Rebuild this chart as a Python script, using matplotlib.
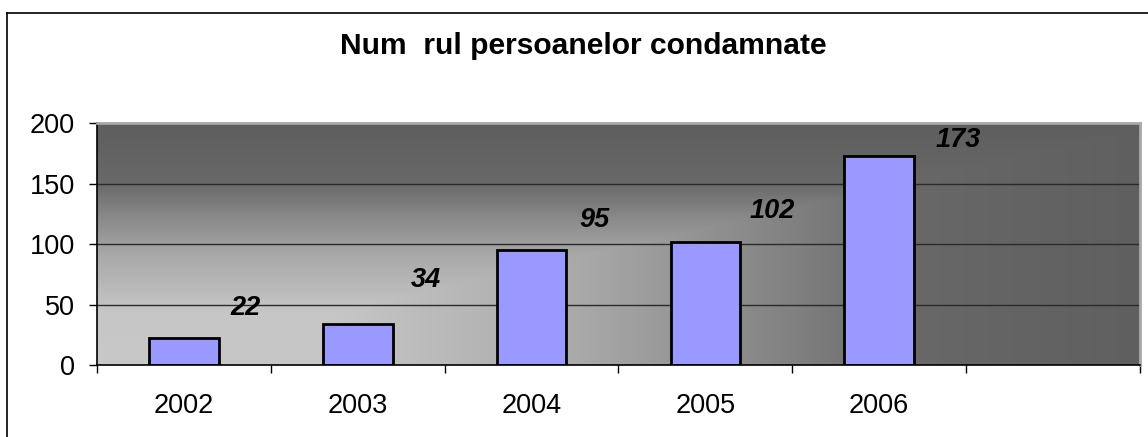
import numpy as np
import matplotlib
matplotlib.use("Agg")
import matplotlib.pyplot as plt
from matplotlib.colors import LinearSegmentedColormap
from matplotlib.lines import Line2D

# ---- data ----
categories = ["2002", "2003", "2004", "2005", "2006", ""]
values = [22, 34, 95, 102, 173]
title = "Num  rul persoanelor condamnate"
yticks = [0, 50, 100, 150, 200]

# label offsets (pixels) relative to bar top centre (styling)
label_offsets = [(62, 30), (68, 44), (63, 30), (67, 31), (79, 16)]

plt.rcParams['font.family'] = ['Liberation Sans', 'DejaVu Sans']

W, H = 1148, 437
fig = plt.figure(figsize=(W / 100, H / 100), dpi=100)
fig.patch.set_facecolor("white")

# outer chart-area border (left & top visible)
fig.add_artist(Line2D([7 / W, 7 / W], [0, 1 - 13 / H], color="black", lw=1.2))
fig.add_artist(Line2D([7 / W, 1.01], [1 - 13 / H, 1 - 13 / H], color="black", lw=1.2))

x0, x1 = 97, 1140
ytop, ybot = 123.5, 365
ax = fig.add_axes([x0 / W, 1 - ybot / H, (x1 - x0) / W, (ybot - ytop) / H])

n = len(categories)
ax.set_xlim(-0.5, n - 0.5)
ax.set_ylim(0, 200)

# gradient background (lightest at bottom-left, darker to top and right)
nx, ny = 400, 200
u = np.linspace(0, 1, nx)[None, :]
v = np.linspace(0, 1, ny)[:, None]
t = np.maximum(u * 0.97, v)
cmap = LinearSegmentedColormap.from_list(
    "bg",
    [(0.0, "#c8c8c8"), (0.22, "#c6c6c6"), (0.45, "#a9a9a9"),
     (0.62, "#878787"), (0.76, "#686868"), (1.0, "#5e5e5e")])
ax.imshow(t, cmap=cmap, vmin=0, vmax=1, origin="lower", aspect="auto",
          extent=(-0.5, n - 0.5, 0, 200), zorder=0, interpolation="bilinear")

# gridlines
for yv in yticks[1:-1]:
    ax.axhline(yv, color="#2a2a2a", lw=1.0, zorder=1)

xs = np.arange(len(values))
ax.bar(xs, values, width=0.4, color="#9999ff", edgecolor="black",
       linewidth=2.0, zorder=2)

for xi, val, (dx, dy) in zip(xs, values, label_offsets):
    ax.annotate(str(val), (xi, val), xytext=(dx, dy), textcoords="offset pixels",
                ha="center", va="center", fontsize=19.5, fontweight="bold",
                fontstyle="italic", color="black", zorder=3)

# spines
ax.spines["left"].set_color("black")
ax.spines["bottom"].set_color("black")
ax.spines["left"].set_linewidth(1.2)
ax.spines["bottom"].set_linewidth(1.2)
ax.spines["top"].set_color("#a8a8a8")
ax.spines["right"].set_color("#a8a8a8")
ax.spines["top"].set_linewidth(2.0)
ax.spines["right"].set_linewidth(2.0)

# y ticks
ax.set_yticks(yticks)
ax.set_yticklabels([str(y) for y in yticks])
ax.tick_params(axis="y", direction="out", length=6, width=1, color="black",
               labelsize=19.5, pad=10)

# x ticks: labels at centres, tick marks at boundaries
ax.set_xticks(np.arange(n))
ax.set_xticklabels(categories)
ax.tick_params(axis="x", which="major", length=0, labelsize=19.5, pad=20)
ax.set_xticks(np.arange(n + 1) - 0.5, minor=True)
ax.tick_params(axis="x", which="minor", direction="out", length=6, width=1,
               color="black")

fig.text(583 / W, 1 - 46 / H, title, ha="center", va="center",
         fontsize=21.6, fontweight="bold")

fig.savefig("out.png", dpi=100, facecolor="white")
